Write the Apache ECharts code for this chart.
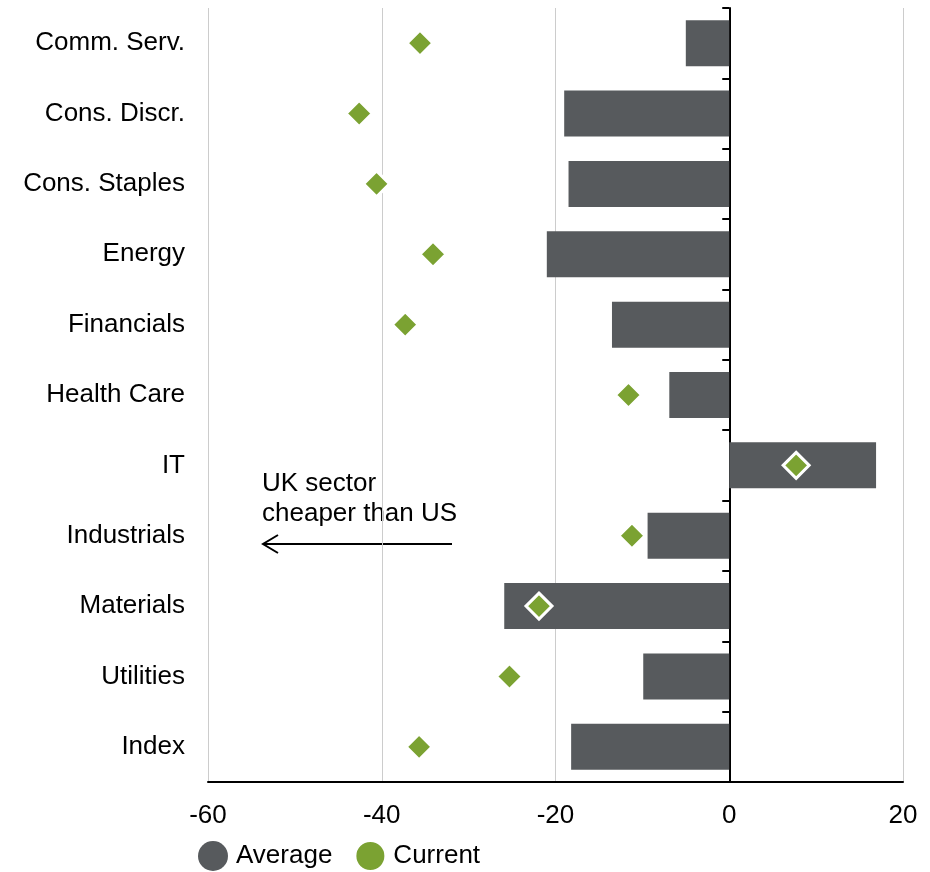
<!DOCTYPE html>
<html>
<head>
<meta charset="utf-8">
<script src="https://cdn.jsdelivr.net/npm/echarts@6/dist/echarts.min.js"></script>
<style>html,body{margin:0;padding:0;background:#fff;}#c{width:930px;height:872px;}</style>
</head>
<body>
<div id="c"></div>
<script>
var categories = ['Comm. Serv.', 'Cons. Discr.', 'Cons. Staples', 'Energy', 'Financials', 'Health Care', 'IT', 'Industrials', 'Materials', 'Utilities', 'Index'];
var averageValues = [-5.0, -19.0, -18.5, -21.0, -13.5, -6.9, 16.9, -9.4, -25.9, -9.9, -18.2];
var currentValues = [-35.6, -42.6, -40.6, -34.1, -37.3, -11.6, 7.7, -11.2, -21.9, -25.3, -35.7];
var xTicks = { min: -60, max: 20, interval: 20 };

var FONT = 'Liberation Sans, Arial, sans-serif';
var chart = echarts.init(document.getElementById('c'), null, { renderer: 'canvas' });
chart.setOption({
  animation: false,
  backgroundColor: '#ffffff',
  grid: { left: 208, right: 27, top: 8, bottom: 90, containLabel: false },
  legend: {
    left: 193, top: 835, itemWidth: 30, itemHeight: 30, itemGap: 22, icon: 'circle',
    textStyle: { fontFamily: FONT, fontSize: 26, color: '#000', padding: [0, 0, 0, 3] },
    data: ['Average', 'Current']
  },
  xAxis: {
    type: 'value', min: xTicks.min, max: xTicks.max, interval: xTicks.interval,
    axisLine: { show: true, onZero: false, lineStyle: { color: '#000', width: 2 } },
    axisTick: { show: false },
    splitLine: { show: true, lineStyle: { color: '#cccccc', width: 1 } },
    axisLabel: { fontFamily: FONT, fontSize: 26, color: '#000', margin: 21 }
  },
  yAxis: [{
    type: 'category', data: categories, inverse: true, position: 'left',
    axisLine: { show: false, onZero: false },
    axisTick: { show: false },
    axisLabel: { fontFamily: FONT, fontSize: 26, color: '#000', margin: 23 }
  }, {
    type: 'category', data: categories, inverse: true, position: 'left',
    axisLine: { show: true, onZero: true, lineStyle: { color: '#000', width: 2 } },
    axisTick: { show: true, length: 7, lineStyle: { color: '#000', width: 2 } },
    axisLabel: { show: false }
  }],
  graphic: [
    { type: 'text', left: 262, top: 469, style: { text: 'UK sector\ncheaper than US', font: '26px ' + FONT, fill: '#000', lineHeight: 30 } },
    { type: 'line', shape: { x1: 263, y1: 544, x2: 452, y2: 544 }, style: { stroke: '#000', lineWidth: 2 } },
    { type: 'polyline', shape: { points: [[278, 535], [263, 544], [278, 553]] }, style: { stroke: '#000', lineWidth: 2, fill: null } }
  ],
  series: [{
    name: 'Average', type: 'bar', yAxisIndex: 0, data: averageValues, barWidth: 46,
    itemStyle: { color: '#575a5d' }, z: 2
  }, {
    name: 'Current', type: 'scatter', yAxisIndex: 0,
    data: currentValues.map(function (v, i) { return [v, categories[i]]; }),
    symbol: 'diamond', symbolSize: 26,
    itemStyle: { color: '#7ba232', borderColor: '#ffffff', borderWidth: 3, opacity: 1 }, z: 5
  }]
});
</script>
</body>
</html>
